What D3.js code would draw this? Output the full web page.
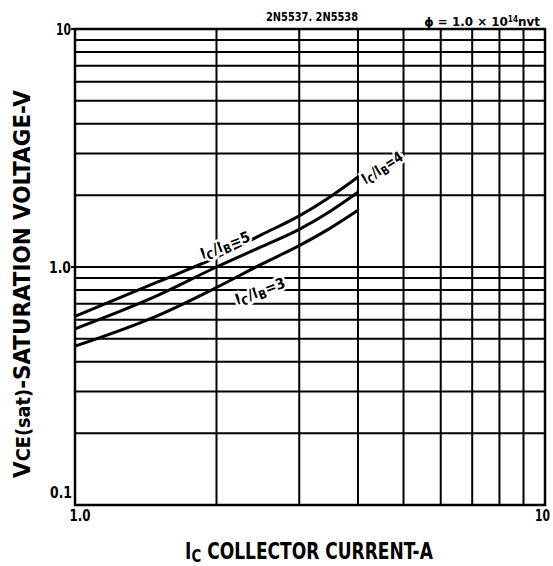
<!DOCTYPE html>
<meta charset="utf-8">
<html>
<head>
    <title>VCE(sat) vs IC</title>
</head>
<style type="text/css">
    body{ margin: 0; background: #fff; }
    text{
        font-family: "Liberation Sans Narrow", "DejaVu Sans Condensed", "Roboto Condensed", sans-serif;
        font-weight: bold;
        fill: #000;
    }
</style>
<script src="https://cdnjs.cloudflare.com/ajax/libs/d3/7.8.5/d3.min.js"></script>
<body>

<script type="text/javascript">
// collector current, A
var currents = [1, 1.5, 2, 2.5, 3, 3.5, 4]
// VCE(sat) for each forced gain, V
var ratio5 = [0.62, 0.865, 1.10, 1.37, 1.64, 1.98, 2.39]
var ratio4 = [0.55, 0.76, 1.00, 1.22, 1.44, 1.72, 2.06]
var ratio3 = [0.465, 0.625, 0.82, 1.03, 1.23, 1.46, 1.73]

var xGrid = [1, 2, 3, 4, 5, 6, 7, 8, 9, 10]
var yGrid = [0.1, 0.2, 0.3, 0.4, 0.5, 0.6, 0.7, 0.8, 0.9, 1, 2, 3, 4, 5, 6, 7, 8, 9, 10]
var yLabels = [{v: 10, t: "10"}, {v: 1, t: "1.0"}, {v: 0.1, t: "0.1"}]
var xLabels = [{v: 1, t: "1.0"}, {v: 10, t: "10"}]

var series = [
    {name: "5", values: ratio5},
    {name: "4", values: ratio4},
    {name: "3", values: ratio3}
]

var svg = d3.select("body").append("svg")
    .attr("width", 553)
    .attr("height", 566)

var margin = {top: 29, left: 75, right: 8, bottom: 61}
var width = 553 - margin.left - margin.right,
    height = 566 - margin.top - margin.bottom

var x = d3.scaleLog().domain([1, 10]).range([margin.left, margin.left + width])
var y = d3.scaleLog().domain([0.1, 10]).range([margin.top + height, margin.top])

// squeeze a text horizontally to a given length (condensed look)
function place(sel, cx, cy, angle, len){
    var w = sel.node().getComputedTextLength()
    var k = len / w
    sel.attr("transform", `translate(${cx},${cy}) rotate(${angle}) scale(${k},1)`)
    return sel
}

// grid
svg.selectAll("line.vgrid")
    .data(xGrid).enter()
    .append("line")
    .attr("class", "vgrid")
    .attr("x1", d => x(d)).attr("x2", d => x(d))
    .attr("y1", y(0.1)).attr("y2", y(10))
    .style("stroke", "#000")
    .style("stroke-width", 2)

svg.selectAll("line.hgrid")
    .data(yGrid).enter()
    .append("line")
    .attr("class", "hgrid")
    .attr("x1", x(1)).attr("x2", x(10))
    .attr("y1", d => y(d)).attr("y2", d => y(d))
    .style("stroke", "#000")
    .style("stroke-width", 2)

svg.append("rect")
    .attr("x", x(1)).attr("y", y(10))
    .attr("width", x(10) - x(1)).attr("height", y(0.1) - y(10))
    .style("fill", "none")
    .style("stroke", "#000")
    .style("stroke-width", 2.5)

// small ticks on left at the decades
svg.selectAll("line.ytick")
    .data([10, 1]).enter()
    .append("line")
    .attr("x1", x(1) - 4).attr("x2", x(1))
    .attr("y1", d => y(d)).attr("y2", d => y(d))
    .style("stroke", "#000")
    .style("stroke-width", 2)

// curves
var line = d3.line()
    .x((d, i) => x(currents[i]))
    .y(d => y(d))
    .curve(d3.curveMonotoneX)

svg.selectAll("path.curve")
    .data(series).enter()
    .append("path")
    .attr("class", "curve")
    .attr("d", d => line(d.values))
    .style("fill", "none")
    .style("stroke", "#000")
    .style("stroke-width", 3)

// curve labels
function ratioLabel(cx, cy, angle, n, len){
    var t = svg.append("text")
        .attr("text-anchor", "middle")
        .style("font-size", "15px")
        .style("stroke", "#fff")
        .style("stroke-width", 5)
        .style("paint-order", "stroke")
    t.append("tspan").text("I")
    t.append("tspan").attr("dy", 3).style("font-size", "12px").text("C")
    t.append("tspan").attr("dy", -3).text("/I")
    t.append("tspan").attr("dy", 3).style("font-size", "12px").text("B")
    t.append("tspan").attr("dy", -3).text("=" + n)
    place(t, cx, cy, angle, len)
}
ratioLabel(227, 250, -21, series[0].name, 52)
ratioLabel(262, 296, -20, series[2].name, 52)
ratioLabel(385, 172, -33, series[1].name, 46)

// tick labels
yLabels.forEach((d, i) => {
    var t = svg.append("text")
        .attr("class", "ylab")
        .attr("text-anchor", "end")
        .style("font-size", "16px")
        .text(d.t)
    place(t, i == 2 ? 72 : 71, i == 2 ? y(d.v) - 7 : y(d.v) + 6, 0, d.t.length == 2 ? 15 : 22)
})

xLabels.forEach((d, i) => {
    var t = svg.append("text")
        .attr("class", "xlab")
        .attr("text-anchor", i == 0 ? "middle" : "end")
        .style("font-size", "16px")
        .text(d.t)
    place(t, i == 0 ? x(d.v) + 5 : 550, 521, 0, d.t.length == 2 ? 15 : 21)
})

// header texts
place(svg.append("text")
    .attr("text-anchor", "middle")
    .style("font-size", "13px")
    .text("2N5537. 2N5538"), 312, 21, 0, 92)

var phi = svg.append("text")
    .attr("text-anchor", "end")
    .style("font-size", "13px")
phi.append("tspan").text("ϕ = 1.0 × 10")
phi.append("tspan").attr("dy", -4).style("font-size", "8px").text("14")
phi.append("tspan").attr("dy", 4).text("nvt")
place(phi, 540, 26, 0, 116)

// axis titles
var xt = svg.append("text")
    .attr("text-anchor", "middle")
    .style("font-size", "23px")
xt.append("tspan").text("I")
xt.append("tspan").attr("dy", 3).style("font-size", "18px").text("C")
xt.append("tspan").attr("dy", -3).text(" COLLECTOR CURRENT-A")
place(xt, 309, 559, 0, 248)

var yt = svg.append("text")
    .attr("text-anchor", "middle")
    .style("font-size", "23px")
yt.append("tspan").text("V")
yt.append("tspan").style("font-size", "19px").text("CE(sat)")
yt.append("tspan").text("-SATURATION VOLTAGE-V")
place(yt, 30, 284, -90, 388)
</script>
</body>
</html>
